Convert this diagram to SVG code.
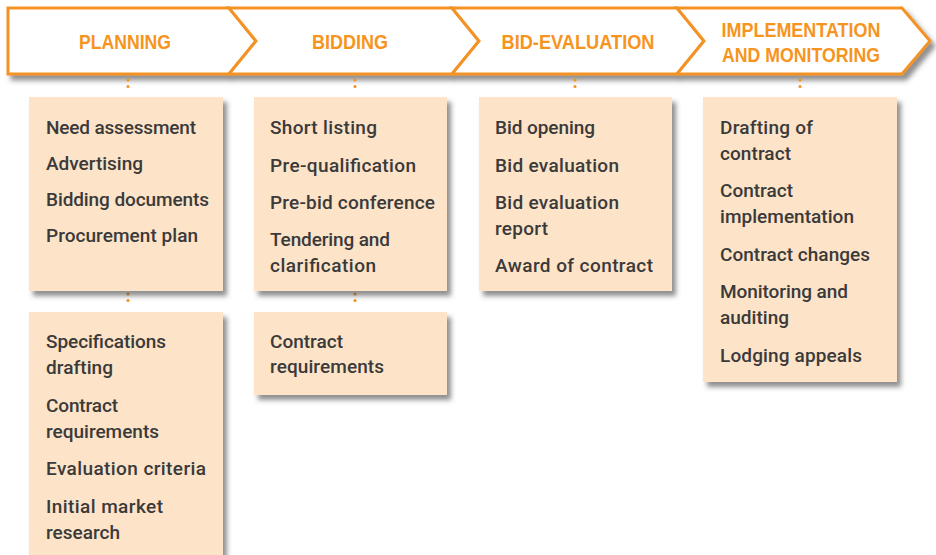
<svg xmlns="http://www.w3.org/2000/svg" width="936" height="555" viewBox="0 0 936 555">
<defs>
<filter id="sh" x="-10%" y="-10%" width="130%" height="140%">
<feDropShadow dx="4" dy="5" stdDeviation="2.5" flood-color="#444" flood-opacity="0.6"/>
</filter>
<style>
.chev{fill:#fff;stroke:#f39325;stroke-width:3;stroke-linejoin:miter}
.hd{font-family:"Liberation Sans",Arial,sans-serif;font-weight:bold;font-size:21px;fill:#f7941d;text-anchor:middle}
.box{fill:#fde3c8}
.t{font-family:"Roboto","Liberation Sans",Arial,sans-serif;font-weight:500;font-size:19px;fill:#3a3a3a}
.dot{stroke:#f39325;stroke-width:3.2;stroke-linecap:round;stroke-dasharray:0 6.5;fill:none}
</style>
</defs>
<g id="headers" filter="url(#sh)">
<g id="h-planning"><path class="chev" d="M8,8 L229,8 L256,41 L229,74 L8,74 Z"/></g>
<g id="h-bidding"><path class="chev" d="M229,8 L452,8 L479,41 L452,74 L229,74 L256,41 Z"/></g>
<g id="h-bideval"><path class="chev" d="M452,8 L677,8 L704,41 L677,74 L452,74 L479,41 Z"/></g>
<g id="h-impl"><path class="chev" d="M677,8 L902,8 L930,41 L902,74 L677,74 L704,41 Z"/></g>
</g>
<g id="header-labels">
<text class="hd" x="125" y="48.5" textLength="92" lengthAdjust="spacingAndGlyphs">PLANNING</text>
<text class="hd" x="350" y="48.5" textLength="76" lengthAdjust="spacingAndGlyphs">BIDDING</text>
<text class="hd" x="578" y="48.5" textLength="153" lengthAdjust="spacingAndGlyphs">BID-EVALUATION</text>
<text class="hd" x="801" y="37" textLength="159" lengthAdjust="spacingAndGlyphs">IMPLEMENTATION</text>
<text class="hd" x="801" y="61.5" textLength="158" lengthAdjust="spacingAndGlyphs">AND MONITORING</text>
</g>
<g id="connectors">
<line class="dot" x1="128" y1="80" x2="128" y2="93"/>
<line class="dot" x1="355" y1="80" x2="355" y2="93"/>
<line class="dot" x1="575" y1="80" x2="575" y2="93"/>
<line class="dot" x1="800" y1="80" x2="800" y2="93"/>
<line class="dot" x1="128" y1="294" x2="128" y2="307"/>
<line class="dot" x1="355" y1="294" x2="355" y2="307"/>
</g>
<g id="planning-1">
<rect class="box" x="29" y="97" width="194" height="194" filter="url(#sh)"/>
<text class="t" x="46" y="134" textLength="150">Need assessment</text>
<text class="t" x="46" y="170" textLength="97">Advertising</text>
<text class="t" x="46" y="206" textLength="163">Bidding documents</text>
<text class="t" x="46" y="242" textLength="152">Procurement plan</text>
</g>
<g id="planning-2">
<rect class="box" x="29" y="312" width="194" height="260" filter="url(#sh)"/>
<text class="t" x="46" y="348" textLength="120">Specifications</text>
<text class="t" x="46" y="374" textLength="67">drafting</text>
<text class="t" x="46" y="412" textLength="72">Contract</text>
<text class="t" x="46" y="438" textLength="113">requirements</text>
<text class="t" x="46" y="475" textLength="160">Evaluation criteria</text>
<text class="t" x="46" y="513" textLength="117">Initial market</text>
<text class="t" x="46" y="539" textLength="74">research</text>
</g>
<g id="bidding-1">
<rect class="box" x="254" y="97" width="193" height="194" filter="url(#sh)"/>
<text class="t" x="270" y="134" textLength="107">Short listing</text>
<text class="t" x="270" y="172" textLength="146">Pre-qualification</text>
<text class="t" x="270" y="209" textLength="165">Pre-bid conference</text>
<text class="t" x="270" y="246" textLength="120">Tendering and</text>
<text class="t" x="270" y="272" textLength="106">clarification</text>
</g>
<g id="bidding-2">
<rect class="box" x="254" y="312" width="193" height="83" filter="url(#sh)"/>
<text class="t" x="270" y="348" textLength="73">Contract</text>
<text class="t" x="270" y="373" textLength="114">requirements</text>
</g>
<g id="bideval-1">
<rect class="box" x="479" y="97" width="193" height="194" filter="url(#sh)"/>
<text class="t" x="495" y="134" textLength="100">Bid opening</text>
<text class="t" x="495" y="172" textLength="124">Bid evaluation</text>
<text class="t" x="495" y="209" textLength="124">Bid evaluation</text>
<text class="t" x="495" y="235" textLength="53">report</text>
<text class="t" x="495" y="272" textLength="158">Award of contract</text>
</g>
<g id="impl-1">
<rect class="box" x="703" y="97" width="194" height="285" filter="url(#sh)"/>
<text class="t" x="720" y="134" textLength="93">Drafting of</text>
<text class="t" x="720" y="160" textLength="71">contract</text>
<text class="t" x="720" y="197" textLength="73">Contract</text>
<text class="t" x="720" y="223" textLength="134">implementation</text>
<text class="t" x="720" y="261" textLength="150">Contract changes</text>
<text class="t" x="720" y="298" textLength="128">Monitoring and</text>
<text class="t" x="720" y="324" textLength="69">auditing</text>
<text class="t" x="720" y="362" textLength="142">Lodging appeals</text>
</g>
</svg>
